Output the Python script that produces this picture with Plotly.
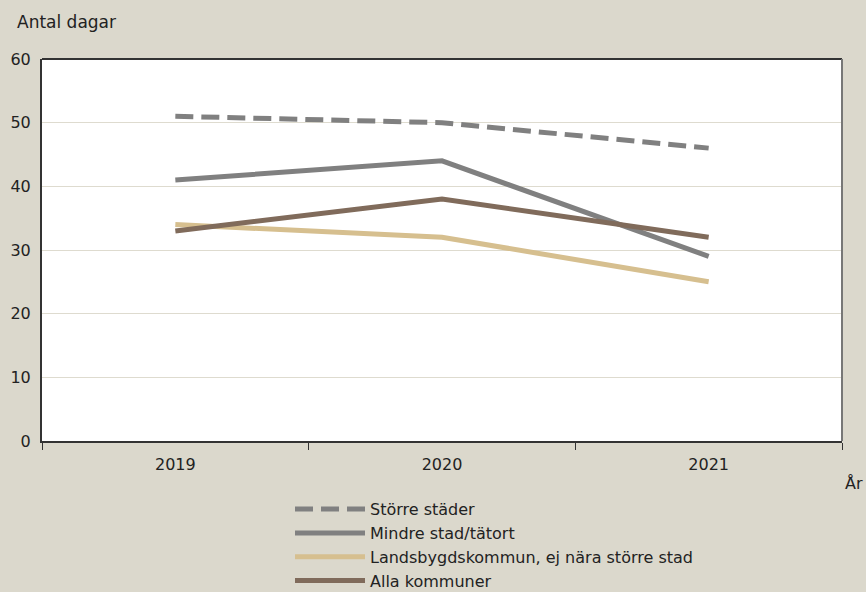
import plotly.graph_objects as go

# Antal dagar per kommungrupp och år
years = ["2019", "2020", "2021"]
storre_stader = [51, 50, 46]
mindre_stad = [41, 44, 29]
landsbygd = [34, 32, 25]
alla_kommuner = [33, 38, 32]

series_names = [
    "Större städer",
    "Mindre stad/tätort",
    "Landsbygdskommun, ej nära större stad",
    "Alla kommuner",
]
series_values = [storre_stader, mindre_stad, landsbygd, alla_kommuner]
series_colors = ["#808080", "#808080", "#d6bf8f", "#806b5b"]
series_dash = ["18px,8px", "solid", "solid", "solid"]

y_ticks = [0, 10, 20, 30, 40, 50, 60]

BG = "#dbd8cc"
FONT = "DejaVu Sans"
TXT = "#222222"

fig = go.Figure()
for name, vals, col, dash in zip(series_names, series_values, series_colors, series_dash):
    fig.add_trace(go.Scatter(
        x=years, y=vals, name=name, mode="lines",
        line=dict(color=col, width=5, dash=dash),
    ))

fig.update_layout(
    width=866, height=592,
    paper_bgcolor=BG, plot_bgcolor="white",
    margin=dict(l=42, r=24, t=59, b=151, autoexpand=False),
    font=dict(family=FONT, size=16, color=TXT),
    showlegend=True,
    legend=dict(
        x=0.31, y=-0.134, xanchor="left", yanchor="top",
        orientation="v", bgcolor="rgba(0,0,0,0)",
        font=dict(family=FONT, size=16, color=TXT),
        tracegroupgap=0, itemwidth=70,
    ),
)

fig.update_xaxes(
    type="category", range=[-0.5, 2.5],
    tickson="boundaries", ticks="outside", ticklen=7, tickcolor="#333333",
    ticklabelstandoff=8,
    showline=True, linecolor="#333333", linewidth=2,
    mirror=False, showgrid=False,
    tickfont=dict(family=FONT, size=16, color=TXT),
)
fig.update_yaxes(
    range=[0, 60], tickvals=y_ticks,
    showgrid=True, gridcolor="#dedbcf", gridwidth=1,
    showline=True, linecolor="#333333", linewidth=2,
    ticks="outside", ticklen=6, tickcolor="rgba(0,0,0,0)",
    zeroline=False,
    tickfont=dict(family=FONT, size=16, color=TXT),
)

# top and right frame of the plotting area
fig.add_shape(type="line", xref="paper", yref="paper", x0=0, x1=1, y0=1, y1=1,
              line=dict(color="#333333", width=2))
fig.add_shape(type="line", xref="paper", yref="paper", x0=1, x1=1, y0=0, y1=1,
              line=dict(color="#777777", width=2))

fig.add_annotation(text="Antal dagar", xref="paper", yref="paper",
                   x=-0.034, y=1.097, xanchor="left", yanchor="middle",
                   showarrow=False, font=dict(family=FONT, size=17, color=TXT))
fig.add_annotation(text="År", xref="paper", yref="paper",
                   x=1.029, y=-0.11, xanchor="right", yanchor="middle",
                   showarrow=False, font=dict(family=FONT, size=16, color=TXT))

fig.write_html("out.html")
